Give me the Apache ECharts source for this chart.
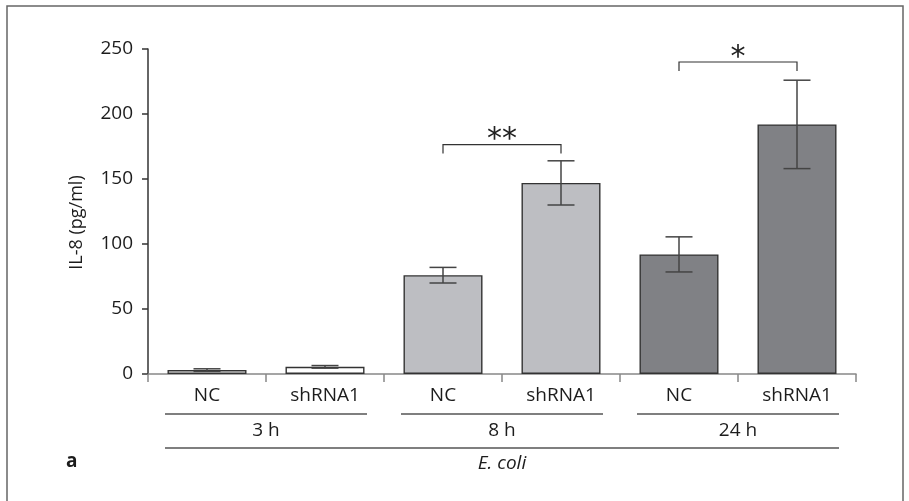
<!DOCTYPE html>
<html>
<head>
<meta charset="utf-8">
<script src="https://cdn.jsdelivr.net/npm/echarts@6/dist/echarts.min.js"></script>
<style>
  html, body { margin: 0; padding: 0; background: #fff; }
  #chart { width: 909px; height: 501px; }
</style>
</head>
<body>
<div id="chart"></div>
<script>
// data
var categories = ['NC', 'shRNA1', 'NC', 'shRNA1', 'NC', 'shRNA1'];
var values = [3, 5.5, 76, 147, 92, 192];
var errors = [1, 1, 6, 17, 13.5, 34];
var groups = ['3 h', '8 h', '24 h'];
var groupSpans = [[0, 1], [2, 3], [4, 5]];
var organism = ['E. coli'];
// significance brackets: [from, to, level, mark]
var brackets = [[2, 3, 176.5, '**'], [4, 5, 240, '*']];

var groupColors = ['#ffffff', '#bdbec2', '#808185'];
var font = 'Open Sans';
var ink = '#1c1c1c';

var myChart = echarts.init(document.getElementById('chart'));

var barData = values.map(function (v, i) {
    return {
        value: v,
        itemStyle: { color: groupColors[Math.floor(i / 2)] }
    };
});

var errData = values.map(function (v, i) {
    return [i, v - errors[i], v + errors[i]];
});

option = {
    backgroundColor: '#ffffff',
    animation: false,
    textStyle: { fontFamily: font },
    grid: { left: 148, right: 53, top: 49, bottom: 127 },
    graphic: [
        {
            type: 'rect',
            shape: { x: 7, y: 6, width: 896, height: 520 },
            style: { fill: 'none', stroke: '#666', lineWidth: 1.5 }
        },
        {
            type: 'text',
            left: 66, top: 452,
            style: { text: 'a', font: 'bold 19px "Open Sans"', fill: ink }
        }
    ],
    xAxis: [
        {
            type: 'category',
            data: categories,
            axisLine: { lineStyle: { color: '#888', width: 1.5 } },
            axisTick: { show: true, length: 8, lineStyle: { color: '#888', width: 1.5 } },
            axisLabel: { color: ink, fontSize: 19, margin: 12, fontFamily: font }
        },
        {
            type: 'category',
            data: groups,
            position: 'bottom',
            offset: 40,
            axisLine: { show: false },
            axisTick: { show: false },
            axisLabel: { color: ink, fontSize: 19, margin: 7, fontFamily: font }
        },
        {
            type: 'category',
            data: organism,
            position: 'bottom',
            offset: 74,
            axisLine: { show: false },
            axisTick: { show: false },
            axisLabel: { color: ink, fontSize: 19, margin: 6, fontStyle: 'italic', fontFamily: font }
        }
    ],
    yAxis: {
        type: 'value',
        min: 0,
        max: 250,
        interval: 50,
        name: 'IL-8 (pg/ml)',
        nameLocation: 'middle',
        nameGap: 62,
        nameTextStyle: { color: ink, fontSize: 18, fontFamily: font, padding: [0, 0, 0, -22] },
        splitLine: { show: false },
        axisLine: { show: true, lineStyle: { color: '#333', width: 1.5 } },
        axisTick: { show: true, length: 6, lineStyle: { color: '#333', width: 1.5 } },
        axisLabel: { color: ink, fontSize: 19, margin: 15, fontFamily: font }
    },
    series: [
        {
            type: 'bar',
            data: barData,
            barWidth: 79,
            itemStyle: { borderColor: '#333', borderWidth: 1.4 }
        },
        {
            // error bars
            type: 'custom',
            data: errData,
            z: 5,
            renderItem: function (params, api) {
                var lo = api.coord([api.value(0), api.value(1)]);
                var hi = api.coord([api.value(0), api.value(2)]);
                var w = 13.5;
                var st = { stroke: '#444', lineWidth: 1.5 };
                return {
                    type: 'group',
                    children: [
                        { type: 'line', shape: { x1: lo[0], y1: lo[1], x2: hi[0], y2: hi[1] }, style: st },
                        { type: 'line', shape: { x1: hi[0] - w, y1: hi[1], x2: hi[0] + w, y2: hi[1] }, style: st },
                        { type: 'line', shape: { x1: lo[0] - w, y1: lo[1], x2: lo[0] + w, y2: lo[1] }, style: st }
                    ]
                };
            }
        },
        {
            // significance brackets
            type: 'custom',
            data: brackets,
            z: 5,
            renderItem: function (params, api) {
                var b = brackets[params.dataIndex];
                var a = api.coord([b[0], b[2]]);
                var c = api.coord([b[1], b[2]]);
                var st = { stroke: '#333', lineWidth: 1.2, fill: 'none' };
                return {
                    type: 'group',
                    children: [
                        {
                            type: 'polyline',
                            shape: { points: [[a[0], a[1] + 9], [a[0], a[1]], [c[0], c[1]], [c[0], c[1] + 9]] },
                            style: st
                        },
                        {
                            type: 'text',
                            style: {
                                text: b[3], x: (a[0] + c[0]) / 2, y: a[1] + 11,
                                align: 'center', verticalAlign: 'bottom',
                                font: '30px "DejaVu Sans"', fill: '#222'
                            }
                        }
                    ]
                };
            }
        },
        {
            // group underlines
            type: 'custom',
            data: groupSpans.concat([[0, 5]]),
            renderItem: function (params, api) {
                var s = api.coord([api.value(0), 0]);
                var e = api.coord([api.value(1), 0]);
                var dy = params.dataIndex < groupSpans.length ? 40 : 74;
                return {
                    type: 'line',
                    shape: { x1: s[0] - 42, y1: s[1] + dy, x2: e[0] + 42, y2: e[1] + dy },
                    style: { stroke: '#555', lineWidth: 1.5 }
                };
            }
        }
    ]
};

myChart.setOption(option);
</script>
</body>
</html>
